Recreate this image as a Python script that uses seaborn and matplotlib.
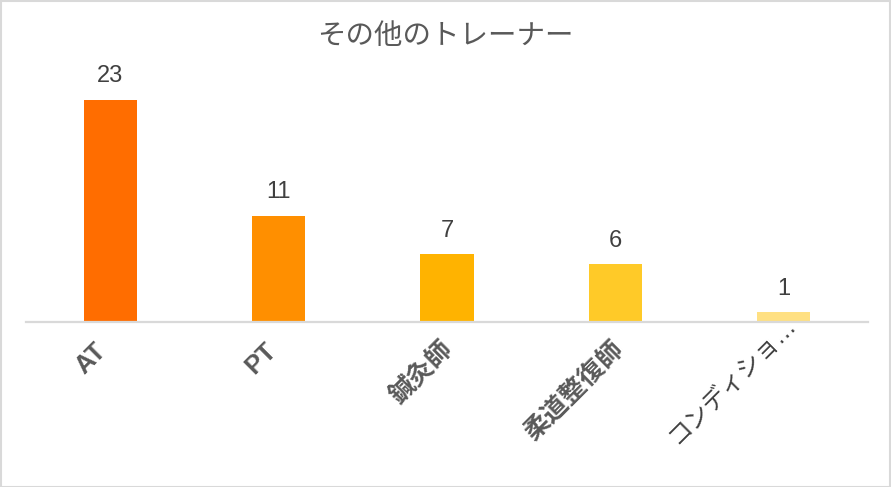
import matplotlib
matplotlib.use("Agg")
import matplotlib.pyplot as plt
import seaborn as sns
import pandas as pd
from matplotlib.patches import Rectangle
from matplotlib.transforms import ScaledTranslation

categories = ["AT", "PT", "鍼灸師", "柔道整復師", "コンディショ…"]
values = [23, 11, 7, 6, 1]
colors = ["#FF6D00", "#FF8F00", "#FFB300", "#FFCA28", "#FFE082"]
title = "その他のトレーナー"

sns.set_theme(style="white")
plt.rcParams['font.family'] = ['Liberation Sans', 'Noto Sans CJK JP', 'DejaVu Sans']

df = pd.DataFrame({"category": categories, "value": values})

fig = plt.figure(figsize=(8.91, 4.87), dpi=100)
ax = fig.add_axes([26/891, 165/487, (868-26)/891, (322-71)/487])

sns.barplot(data=df, x="category", y="value", hue="category",
            palette=colors, legend=False, width=0.315, ax=ax,
            edgecolor="none", linewidth=0, saturation=1)

ax.set_ylim(0, 26)
ax.set_xlim(-0.5, len(categories) - 0.5)
for s in ["top", "right", "left"]:
    ax.spines[s].set_visible(False)
ax.spines["bottom"].set_color("#D9D9D9")
ax.spines["bottom"].set_linewidth(1.6)
ax.set_yticks([])
ax.set_xlabel("")
ax.set_ylabel("")
ax.tick_params(axis="x", length=0, pad=18)

for cont in ax.containers:
    ax.bar_label(cont, padding=9, fontsize=17, color="#404040",
                 family=['Liberation Sans', 'Noto Sans CJK JP'])

ax.set_xticks(range(len(categories)))
ax.set_xticklabels(categories, rotation=45, ha="right", va="center",
                   rotation_mode="anchor", fontsize=18.5, fontweight="bold",
                   color="#595959",
                   family=['Liberation Sans', 'Noto Sans CJK JP'])

offsets = [(-8, 0), (-6, 0), (2, 2), (4, 2), (8, 26)]
labels = ax.get_xticklabels()
for lab, (dx, dy) in zip(labels, offsets):
    lab.set_transform(lab.get_transform() +
                      ScaledTranslation(dx/100, dy/100, fig.dpi_scale_trans))
labels[-1].set_fontweight("normal")
labels[-1].set_fontsize(17.5)
labels[-1].set_color("#404040")

fig.text(0.5, 1 - 36/487, title, ha="center", va="center", fontsize=20.5,
         color="#595959", family=['Noto Sans CJK JP', 'DejaVu Sans'])

fig.patches.append(Rectangle((0.001, 0.001), 0.998, 0.997, transform=fig.transFigure,
                             fill=False, edgecolor="#D9D9D9", linewidth=1.5))

fig.savefig("out.png", dpi=100)
